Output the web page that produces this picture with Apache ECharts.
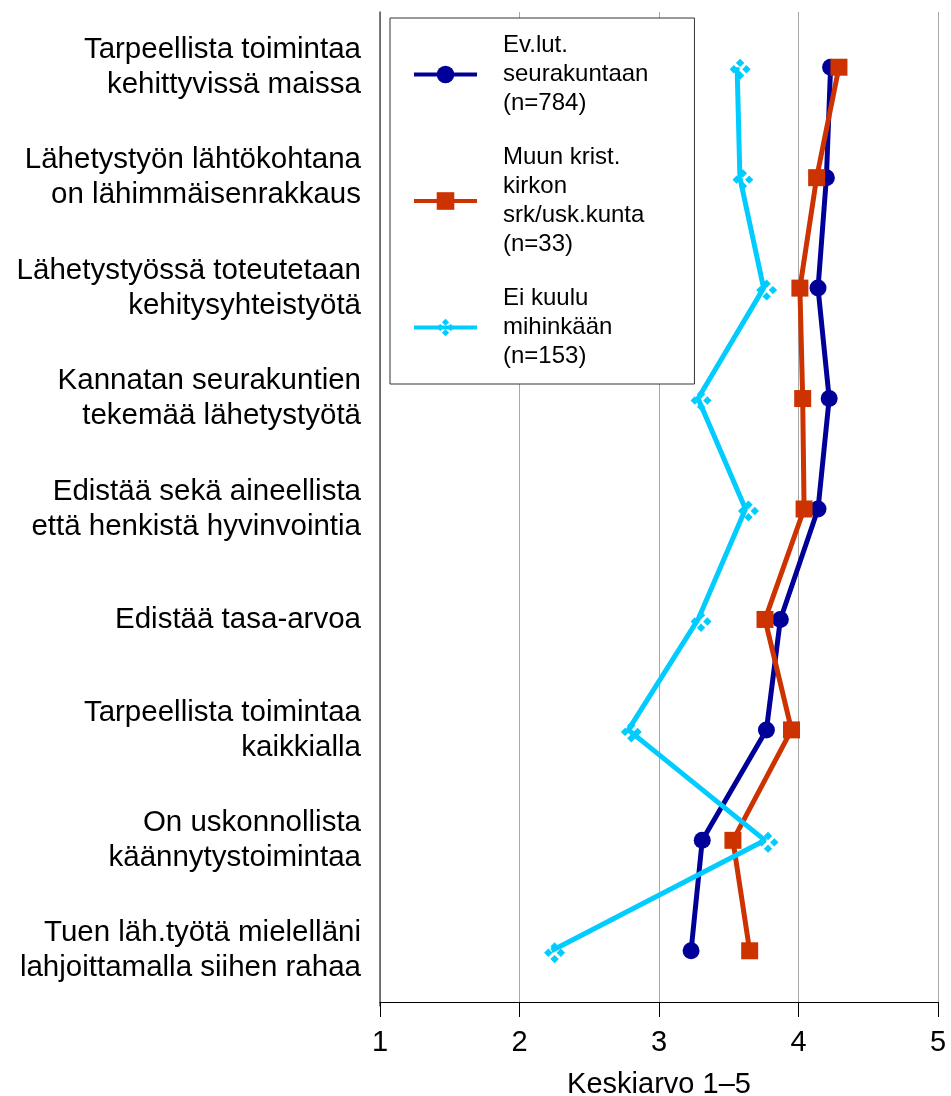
<!DOCTYPE html>
<html>
<head>
<meta charset="utf-8">
<script src="https://cdn.jsdelivr.net/npm/echarts@6/dist/echarts.min.js"></script>
<style>
html,body{margin:0;padding:0;background:#fff;}
#chart{width:951px;height:1096px;}
</style>
</head>
<body>
<div id="chart"></div>
<script>
const categories = [
  "Tarpeellista toimintaa\nkehittyvissä maissa",
  "Lähetystyön lähtökohtana\non lähimmäisenrakkaus",
  "Lähetystyössä toteutetaan\nkehitysyhteistyötä",
  "Kannatan seurakuntien\ntekemää lähetystyötä",
  "Edistää sekä aineellista\nettä henkistä hyvinvointia",
  "Edistää tasa-arvoa",
  "Tarpeellista toimintaa\nkaikkialla",
  "On uskonnollista\nkäännytystoimintaa",
  "Tuen läh.työtä mielelläni\nlahjoittamalla siihen rahaa"
];
const seriesNames = [
  "Ev.lut.\nseurakuntaan\n(n=784)",
  "Muun krist.\nkirkon\nsrk/usk.kunta\n(n=33)",
  "Ei kuulu\nmihinkään\n(n=153)"
];
const evlut = [4.23, 4.20, 4.14, 4.22, 4.14, 3.87, 3.77, 3.31, 3.23];
const muun  = [4.29, 4.13, 4.01, 4.03, 4.04, 3.76, 3.95, 3.53, 3.65];
const eiKuulu = [3.56, 3.58, 3.75, 3.28, 3.62, 3.28, 2.78, 3.76, 2.23];
const xTicks = [1, 2, 3, 4, 5];

const FONT = "Liberation Sans, Arial, Helvetica, sans-serif";
const ringPath = 'path://M10 0 L14 4 L10 8 L6 4 Z M4 6 L8 10 L4 14 L0 10 Z M16 6 L20 10 L16 14 L12 10 Z M10 12 L14 16 L10 20 L6 16 Z';

const chart = echarts.init(document.getElementById('chart'), null, {renderer: 'canvas'});
chart.setOption({
  animation: false,
  backgroundColor: '#ffffff',
  textStyle: {fontFamily: FONT},
  grid: {left: 380, right: 13, top: 12, bottom: 90, containLabel: false, outerBoundsMode: 'none'},
  legend: {
    orient: 'vertical',
    left: 390,
    top: 18,
    backgroundColor: '#ffffff',
    borderColor: '#333333',
    borderWidth: 1,
    padding: [13, 46, 13, 22],
    itemWidth: 63,
    itemHeight: 22,
    itemGap: 25,
    lineStyle: {width: 4},
    textStyle: {fontFamily: FONT, fontSize: 24, lineHeight: 29, color: '#000', padding: [0, 0, 0, 21]},
    data: seriesNames
  },
  xAxis: {
    type: 'value',
    min: xTicks[0],
    max: xTicks[xTicks.length - 1],
    interval: 1,
    offset: -4,
    name: 'Keskiarvo 1–5',
    nameLocation: 'middle',
    nameGap: 68,
    nameTextStyle: {fontFamily: FONT, fontSize: 29, color: '#000'},
    axisLine: {show: true, lineStyle: {color: '#000', width: 1}},
    axisTick: {show: true, length: 15, lineStyle: {color: '#000'}},
    axisLabel: {fontFamily: FONT, fontSize: 29, color: '#000', margin: 26},
    splitLine: {show: true, lineStyle: {color: '#a8a8a8', width: 1}}
  },
  yAxis: {
    type: 'category',
    inverse: true,
    data: categories,
    axisLine: {show: true, lineStyle: {color: '#555', width: 1.5}},
    axisTick: {show: false},
    splitLine: {show: false},
    axisLabel: {fontFamily: FONT, fontSize: 29.5, lineHeight: 35, color: '#000', margin: 19, align: 'right'}
  },
  series: [
    {
      name: seriesNames[0], type: 'line', data: evlut,
      symbol: 'circle', symbolSize: 17,
      lineStyle: {color: '#000099', width: 5},
      itemStyle: {color: '#000099'}
    },
    {
      name: seriesNames[1], type: 'line', data: muun,
      symbol: 'rect', symbolSize: 17,
      lineStyle: {color: '#cc3300', width: 5},
      itemStyle: {color: '#cc3300'}
    },
    {
      name: seriesNames[2], type: 'line', data: eiKuulu,
      symbol: ringPath, symbolSize: 21, symbolOffset: [3, 2],
      lineStyle: {color: '#00ccff', width: 5},
      itemStyle: {color: '#00ccff'}
    }
  ]
});
</script>
</body>
</html>
